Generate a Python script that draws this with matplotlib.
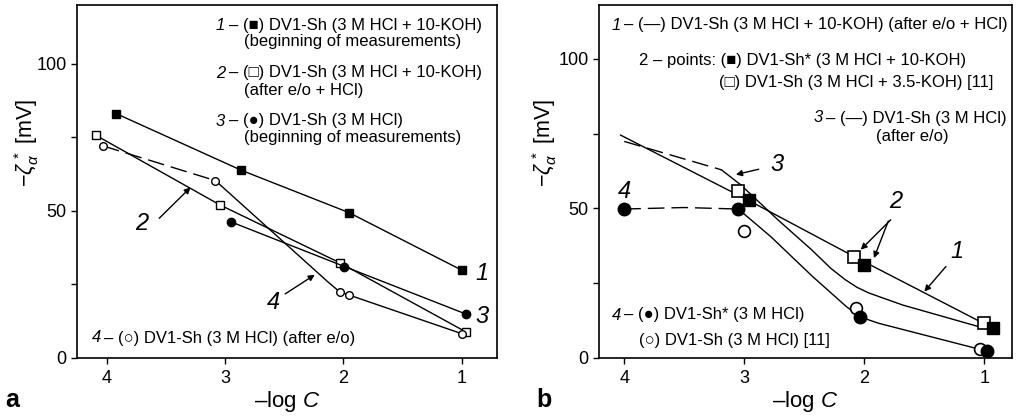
import matplotlib
matplotlib.use("Agg")
import matplotlib.pyplot as plt

plt.rcParams['font.family'] = ['Liberation Sans', 'DejaVu Sans']
plt.rcParams['mathtext.fontset'] = 'custom'
plt.rcParams['mathtext.rm'] = 'Liberation Sans'
plt.rcParams['mathtext.it'] = 'Liberation Sans:italic'
plt.rcParams['mathtext.bf'] = 'Liberation Sans:bold'

# ---------------- data: panel a ----------------
a1_x = [3.92, 2.86, 1.95, 1.00]
a1_y = [83.1, 63.8, 49.4, 29.9]
a2_x = [4.09, 3.04, 2.03, 0.96]
a2_y = [75.7, 52.0, 32.4, 8.8]
a3_x = [2.95, 1.99, 0.96]
a3_y = [46.3, 31.1, 14.9]
a4_x = [4.03, 3.08, 2.03, 1.95, 1.00]
a4_y = [72.1, 60.3, 22.5, 21.4, 8.3]
a4_dash_x = [4.03, 3.08]
a4_dash_y = [72.1, 60.3]
a4_line_x = [3.08, 2.13, 2.03, 1.95, 1.00]
a4_line_y = [60.3, 25.9, 22.5, 21.4, 8.3]

# ---------------- data: panel b ----------------
b_fsq_x = [2.96, 2.00, 0.93]
b_fsq_y = [52.7, 31.1, 9.9]
b_osq_x = [3.05, 2.09, 1.00]
b_osq_y = [55.7, 33.7, 11.6]
b_fci_x = [4.00, 3.05, 2.04, 0.98]
b_fci_y = [49.8, 49.8, 13.8, 2.3]
b_oci_x = [3.00, 2.07, 1.04]
b_oci_y = [42.3, 16.6, 3.0]

b_c1_x = [4.03, 2.96, 2.08, 0.95]
b_c1_y = [74.5, 52.6, 33.8, 10.4]
b_c3_dash_x = [4.00, 3.19]
b_c3_dash_y = [72.4, 62.9]
b_c3_x = [3.19, 3.03, 2.72, 2.44, 2.28, 2.16, 2.06, 1.96, 1.68, 0.97]
b_c3_y = [62.9, 57.9, 46.2, 36.2, 30.0, 26.2, 23.6, 21.7, 17.7, 9.6]
b_c4_dash_x = [4.00, 3.50, 3.05]
b_c4_dash_y = [49.8, 50.3, 49.8]
b_c4_x = [3.05, 2.78, 2.43, 2.15, 2.04, 1.88, 0.98]
b_c4_y = [49.8, 40.6, 27.2, 17.2, 13.8, 11.6, 2.3]

x_ticks = [4, 3, 2, 1]
y_major = [0, 50, 100]
y_minor = [25, 75]

W, H = 1019, 416
fig = plt.figure(figsize=(W / 100, H / 100), dpi=100)

def px_axes(l, r, t, b):
    return fig.add_axes([l / W, 1 - b / H, (r - l) / W, (b - t) / H])

axa = px_axes(77, 497, 5, 358)
axb = px_axes(599, 1012, 5, 358)

def style(ax, xlim, ylim):
    ax.set_xlim(*xlim)
    ax.set_ylim(*ylim)
    ax.set_xticks(x_ticks)
    ax.set_xticklabels([str(v) for v in x_ticks])
    ax.set_yticks(y_major)
    ax.set_yticks(y_minor, minor=True)
    ax.tick_params(axis='both', which='both', direction='out', length=4.5,
                   width=1.0, labelsize=13, pad=3)
    ax.tick_params(axis='x', pad=4)
    for sp in ax.spines.values():
        sp.set_linewidth(1.2)
    ax.set_xlabel(r'–log $\mathit{C}$', fontsize=16)
    ax.set_ylabel(r'$-\zeta^{\,*}_{\alpha}$ [mV]', fontsize=15.5)
    ax.xaxis.label.set_va('center')
    ax.yaxis.label.set_va('center')

style(axa, (4.25, 0.70), (0, 120))
style(axb, (4.21, 0.77), (0, 118))
axa.xaxis.set_label_coords(0.5, (358 - 402) / 353)
axa.yaxis.set_label_coords((27 - 77) / 420, (358 - 143) / 353)
axb.xaxis.set_label_coords(0.5, (358 - 402) / 353)
axb.yaxis.set_label_coords((545 - 599) / 413, (358 - 143) / 353)

lw = 1.0
k = 'black'

# ---------------- panel a ----------------
axa.plot(a1_x, a1_y, '-', color=k, lw=lw, marker='s', ms=5.5, mfc=k, mec=k)
axa.plot(a2_x, a2_y, '-', color=k, lw=lw, marker='s', ms=5.5, mfc='white', mec=k, mew=1.0)
axa.plot(a3_x, a3_y, '-', color=k, lw=lw, marker='o', ms=6, mfc=k, mec=k)
axa.plot(a4_dash_x, a4_dash_y, color=k, lw=lw, dashes=[12, 5])
axa.plot(a4_line_x, a4_line_y, '-', color=k, lw=lw)
axa.plot(a4_x, a4_y, 'o', ms=5.5, mfc='white', mec=k, mew=1.0)

arr = dict(arrowstyle='-|>', color=k, lw=1.0, mutation_scale=9, shrinkA=0, shrinkB=0)
axa.annotate('', xy=(3.29, 58.0), xytext=(3.555, 47.5), arrowprops=arr)
axa.annotate('', xy=(2.24, 28.3), xytext=(2.49, 21.8), arrowprops=arr)
num = dict(fontsize=17, style='italic', ha='center', va='center')
axa.text(3.70, 45.6, '2', **num)
axa.text(2.586, 18.7, '4', **num)
axa.text(0.83, 28.8, '1', **num)
axa.text(0.825, 14.1, '3', **num)

# ---------------- panel b ----------------
axb.plot(b_c1_x, b_c1_y, '-', color=k, lw=lw)
axb.plot(b_c3_dash_x, b_c3_dash_y, color=k, lw=lw, dashes=[12, 5])
axb.plot(b_c3_x, b_c3_y, '-', color=k, lw=lw)
axb.plot(b_c4_dash_x, b_c4_dash_y, color=k, lw=lw, dashes=[12, 5])
axb.plot(b_c4_x, b_c4_y, '-', color=k, lw=lw)
axb.plot(b_osq_x, b_osq_y, 's', ms=8, mfc='white', mec=k, mew=1.2)
axb.plot(b_fsq_x, b_fsq_y, 's', ms=8, mfc=k, mec=k)
axb.plot(b_oci_x, b_oci_y, 'o', ms=8.5, mfc='white', mec=k, mew=1.2)
axb.plot(b_fci_x, b_fci_y, 'o', ms=9, mfc=k, mec=k)

axb.annotate('', xy=(3.07, 61.3), xytext=(2.88, 63.1), arrowprops=arr)
axb.annotate('', xy=(2.03, 36.2), xytext=(1.78, 46.2), arrowprops=arr)
axb.annotate('', xy=(1.92, 33.4), xytext=(1.80, 45.8), arrowprops=arr)
axb.annotate('', xy=(1.50, 22.2), xytext=(1.32, 30.6), arrowprops=arr)
axb.text(4.00, 55.5, '4', **num)
axb.text(2.73, 64.6, '3', **num)
axb.text(1.74, 52.3, '2', **num)
axb.text(1.23, 35.6, '1', **num)

# ---------------- legend texts ----------------
fs = 12

def ftext(x, y, s, **kw):
    kw.setdefault('fontsize', fs)
    fig.text(x / W, 1 - y / H, s, va='center', ha='left', **kw)

# panel a
ftext(216, 25.5, '1', style='italic')
ftext(229, 25.5, '– (■) DV1-Sh (3 M HCl + 10-KOH)')
ftext(244, 41.5, '(beginning of measurements)')
ftext(216, 73, '2', style='italic')
ftext(229, 73, '– (□) DV1-Sh (3 M HCl + 10-KOH)')
ftext(244, 90, '(after e/o + HCl)')
ftext(216, 121, '3', style='italic')
ftext(229, 121, '– (●) DV1-Sh (3 M HCl)')
ftext(244, 137.5, '(beginning of measurements)')
ftext(92, 338, '4', style='italic')
ftext(104, 338, '– (○) DV1-Sh (3 M HCl) (after e/o)')

# panel b
ftext(612, 25, '1', style='italic')
ftext(624, 25, '– (—) DV1-Sh (3 M HCl + 10-KOH) (after e/o + HCl)')
ftext(639, 60, '2 – points: (■) DV1-Sh* (3 M HCl + 10-KOH)')
ftext(719, 82, '(□) DV1-Sh (3 M HCl + 3.5-KOH) [11]')
ftext(814, 118, '3', style='italic')
ftext(826, 118, '– (—) DV1-Sh (3 M HCl)')
ftext(876, 137, '(after e/o)')
ftext(612, 315, '4', style='italic')
ftext(624, 315, '– (●) DV1-Sh* (3 M HCl)')
ftext(639, 340, '(○) DV1-Sh (3 M HCl) [11]')

# panel letters
ftext(5, 400, 'a', fontsize=18, weight='bold')
ftext(536, 400, 'b', fontsize=18, weight='bold')

fig.savefig('out.png', dpi=100)
